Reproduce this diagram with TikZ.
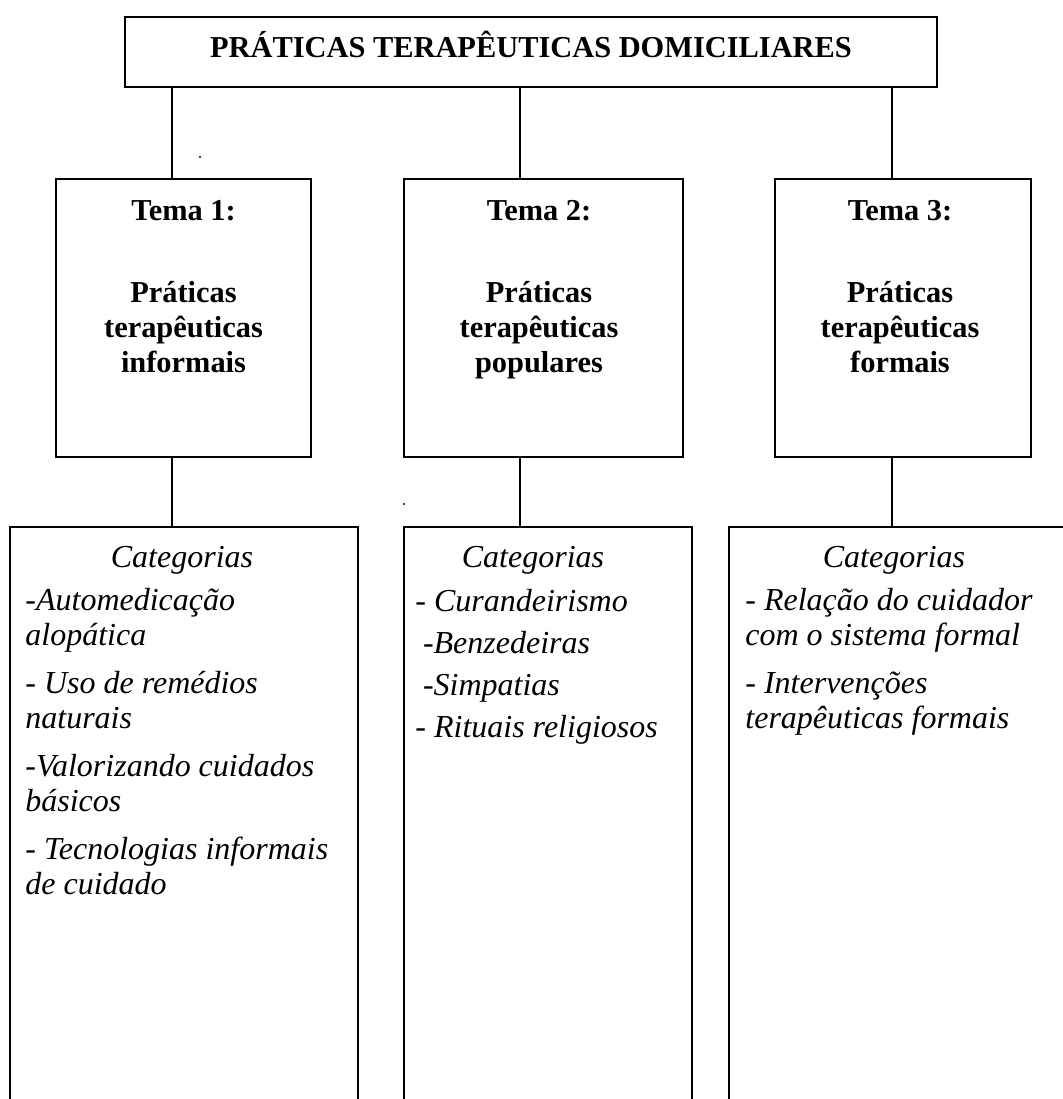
\documentclass[tikz,border=0pt]{standalone}
\usepackage{fontspec}
\setmainfont{Liberation Serif}
\usetikzlibrary{positioning}
\tikzset{
  caixa/.style={draw,line width=0.9pt,inner sep=0pt},
  titulo/.style={font=\fontsize{15.2}{17.5}\selectfont\bfseries,inner sep=0pt},
  tema/.style={font=\fontsize{15.2}{17.5}\selectfont\bfseries,align=center,inner sep=0pt,anchor=base},
  categ/.style={font=\fontsize{16}{17.5}\selectfont\itshape,align=left,inner sep=0pt,anchor=base west},
  cabec/.style={font=\fontsize{16}{17.5}\selectfont\itshape,inner sep=0pt,anchor=base},
}
\begin{document}
\begin{tikzpicture}[x=0.5pt,y=-0.5pt]
  \useasboundingbox (0,0) rectangle (1062,1099);
  % caixa do topo
  \node[caixa,minimum width=406pt,minimum height=35pt] (topo) at (531,52) {};
  \node[titulo,anchor=base] (tit) at (531,57) {PRÁTICAS TERAPÊUTICAS DOMICILIARES};
  % temas
  \node[caixa,minimum width=127.5pt,minimum height=139pt] (tema1) at (183.5,318) {};
  \node[caixa,minimum width=139.5pt,minimum height=139pt] (tema2) at (543.5,318) {};
  \node[caixa,minimum width=128pt,minimum height=139pt] (tema3) at (903,318) {};
  \node[tema] (t1) at (183.5,372) {Tema 1:\\[23.5pt]Práticas\\terapêuticas\\informais};
  \node[tema] (t2) at (539,372) {Tema 2:\\[23.5pt]Práticas\\terapêuticas\\populares};
  \node[tema] (t3) at (900,372) {Tema 3:\\[23.5pt]Práticas\\terapêuticas\\formais};
  % categorias
  \node[caixa,minimum width=174pt,minimum height=296.5pt] (cat1) at (184,823.5) {};
  \node[caixa,minimum width=144pt,minimum height=296.5pt] (cat2) at (548,823.5) {};
  \node[caixa,minimum width=175.5pt,minimum height=296.5pt] (cat3) at (904.5,823.5) {};
  \node[cabec] (c1) at (182,567) {Categorias};
  \node[cabec] (c2) at (533,567) {Categorias};
  \node[cabec] (c3) at (894,567) {Categorias};
  \node[categ] (l1) at (25,894) {-Automedicação\\alopática\\[6.5pt]- Uso de remédios\\naturais\\[6.5pt]-Valorizando cuidados\\básicos\\[6.5pt]- Tecnologias informais\\de cuidado};
  \node[categ] (l2) at (415,737) {- Curandeirismo\\[3.5pt]\hspace*{3.8pt}-Benzedeiras\\[3.5pt]\hspace*{3.8pt}-Simpatias\\[3.5pt]- Rituais religiosos};
  \node[categ] (l3) at (745,728) {- Relação do cuidador\\com o sistema formal\\[6.5pt]- Intervenções\\terapêuticas formais};
  % ligacoes
  \coordinate (xa) at (172,0);
  \coordinate (xb) at (520,0);
  \coordinate (xc) at (892,0);
  \draw[line width=0.9pt] (topo.south -| xa) -- (tema1.north -| xa);
  \draw[line width=0.9pt] (topo.south -| xb) -- (tema2.north -| xb);
  \draw[line width=0.9pt] (topo.south -| xc) -- (tema3.north -| xc);
  \draw[line width=0.9pt] (tema1.south -| xa) -- (cat1.north -| xa);
  \draw[line width=0.9pt] (tema2.south -| xb) -- (cat2.north -| xb);
  \draw[line width=0.9pt] (tema3.south -| xc) -- (cat3.north -| xc);
  \fill (200,157) circle[radius=1.2];
  \fill (404,504) circle[radius=1.2];
\end{tikzpicture}
\end{document}
